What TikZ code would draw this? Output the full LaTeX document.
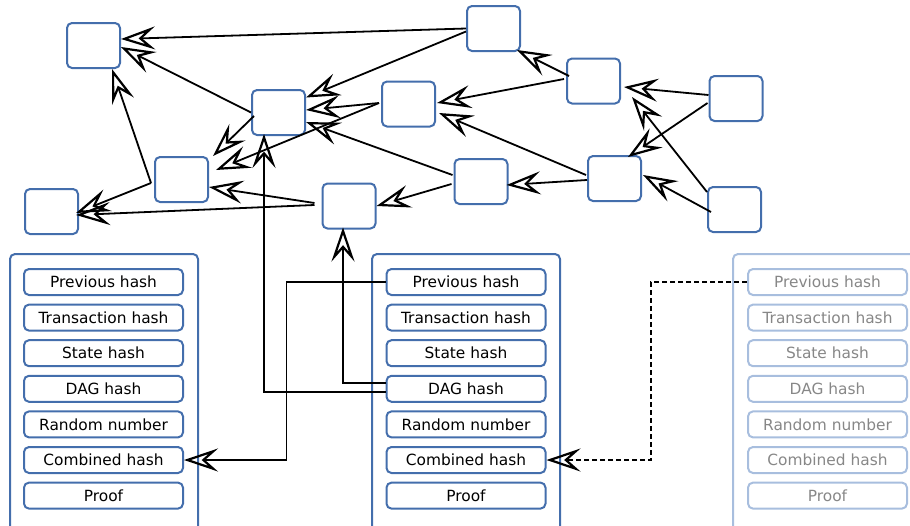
\documentclass[tikz,border=0pt]{standalone}
\usepackage{fontspec}
\setmainfont{DejaVu Sans}
\usetikzlibrary{arrows.meta}
\definecolor{nodeblue}{RGB}{68,110,172}
\definecolor{fadeblue}{RGB}{168,190,222}
\definecolor{fadetext}{RGB}{135,135,135}
\tikzset{
  dagnode/.style={draw=nodeblue, line width=2pt, rounded corners=5pt, minimum width=53pt, minimum height=45pt, inner sep=0pt, fill=white},
  blockbox/.style={draw=nodeblue, line width=2pt, rounded corners=5pt, minimum width=188pt, minimum height=290pt, inner sep=0pt},
  fadedblock/.style={blockbox, draw=fadeblue},
  field/.style={draw=nodeblue, line width=2pt, rounded corners=5pt, minimum width=159pt, minimum height=26pt, inner sep=0pt, font=\fontsize{15.4}{18}\selectfont, text=black},
  fadedfield/.style={field, draw=fadeblue, text=fadetext},
  tiphead/.tip={Stealth[open, length=34pt, width=23pt, inset=13pt, line width=2.2pt]},
  conn/.style={draw=black, line width=1.8pt, -tiphead},
  dconn/.style={conn, dash pattern=on 5pt off 3pt}
}
\begin{document}
\begin{tikzpicture}[x=1pt, y=-1pt]
\useasboundingbox (0,0) rectangle (910,525);
\clip (0,0) rectangle (910,525);
% DAG nodes
\node[dagnode] (A) at (93.5,45.5) {};
\node[dagnode] (B) at (278.5,112.5) {};
\node[dagnode] (C) at (408.5,104) {};
\node[dagnode] (D) at (181.5,179.5) {};
\node[dagnode] (E) at (51.5,211.5) {};
\node[dagnode] (F) at (349,206) {};
\node[dagnode] (G) at (493.5,28.5) {};
\node[dagnode] (H) at (593.5,81) {};
\node[dagnode] (I) at (736,98.5) {};
\node[dagnode] (J) at (614.5,178.5) {};
\node[dagnode] (K) at (481,181.5) {};
\node[dagnode] (L) at (734.5,209.5) {};
% blocks
\node[blockbox] (lblk) at (104,399) {};
\node[blockbox] (mblk) at (466,399) {};
\node[fadedblock] (rblk) at (827,399) {};
\foreach \n/\t [count=\i] in {1/Previous hash,2/Transaction hash,3/State hash,4/DAG hash,5/Random number,6/Combined hash,7/Proof}{
  \pgfmathsetmacro{\yy}{282+35.6*(\i-1)}
  \node[field] (l\n) at (103.5,\yy) {\t};
  \node[field] (m\n) at (466,\yy) {\t};
  \node[fadedfield] (r\n) at (827.5,\yy) {\t};
}
% DAG edges
\draw[conn] (G.west) -- ([yshift=6.5pt]A.east);
\draw[conn] ([yshift=-3pt]G.west) -- ([yshift=15pt]B.east);
\draw[conn] (B.west) -- ([yshift=-1.5pt]A.east);
\draw[conn] ([xshift=-3pt,yshift=-3.5pt]D.west) -- ([xshift=18.5pt]A.south);
\draw[conn] ([xshift=-2pt,yshift=1pt]C.west) -- ([yshift=2.5pt]B.east);
\draw[conn] ([xshift=-2pt,yshift=1pt]C.west) -- ([xshift=7pt,yshift=9.5pt]D.east);
\draw[conn] ([xshift=3pt,yshift=-3.5pt]B.west) -- ([xshift=4pt,yshift=0pt]D.north east);
\draw[conn] ([xshift=-1pt,yshift=6.5pt]K.west) -- ([yshift=-9.5pt]B.east);
\draw[conn] ([xshift=-2pt,yshift=-2.5pt]K.west) -- ([yshift=0pt]F.east);
\draw[conn] ([yshift=-1.5pt]J.west) -- ([xshift=-2pt,yshift=-3.5pt]K.east);
\draw[conn] ([xshift=-1pt,yshift=3.5pt]J.west) -- ([xshift=3pt,yshift=-9pt]C.east);
\draw[conn] ([xshift=-2pt,yshift=2pt]H.west) -- ([xshift=1pt,yshift=1pt]C.east);
\draw[conn] ([xshift=3pt,yshift=5pt]H.west) -- ([xshift=-4pt,yshift=2pt]G.south east);
\draw[conn] ([yshift=3.5pt]I.west) -- ([xshift=3pt,yshift=-6pt]H.east);
\draw[conn] ([xshift=-1pt,yshift=-4.5pt]I.west) -- ([xshift=13.5pt,yshift=-2pt]J.north);
\draw[conn] ([yshift=17.5pt]L.west) -- ([xshift=11pt,yshift=-16pt]H.east);
\draw[conn] ([xshift=4pt,yshift=-2.5pt]L.west) -- ([xshift=1pt,yshift=3.5pt]J.east);
\draw[conn] ([xshift=-7pt,yshift=3pt]F.west) -- ([yshift=-7.5pt]D.east);
\draw[conn] ([xshift=-7pt,yshift=1pt]F.west) -- ([xshift=-3pt,yshift=-3.5pt]E.east);
\draw[conn] ([xshift=-3pt,yshift=-3.5pt]D.west) -- ([xshift=-3pt,yshift=-1.5pt]E.east);
% block connectors
\draw[conn] ([yshift=-3.5pt]m4.west) -| ([xshift=-14.5pt,yshift=2pt]B.south);
\draw[conn] ([yshift=5.5pt]m4.west) -| ([xshift=-6pt,yshift=2pt]F.south);
\draw[conn] (m1.west) -- ++(-99,0) |- (l6.east);
\draw[dconn] (r1.west) -- ++(-96,0) |- (m6.east);
\end{tikzpicture}
\end{document}
